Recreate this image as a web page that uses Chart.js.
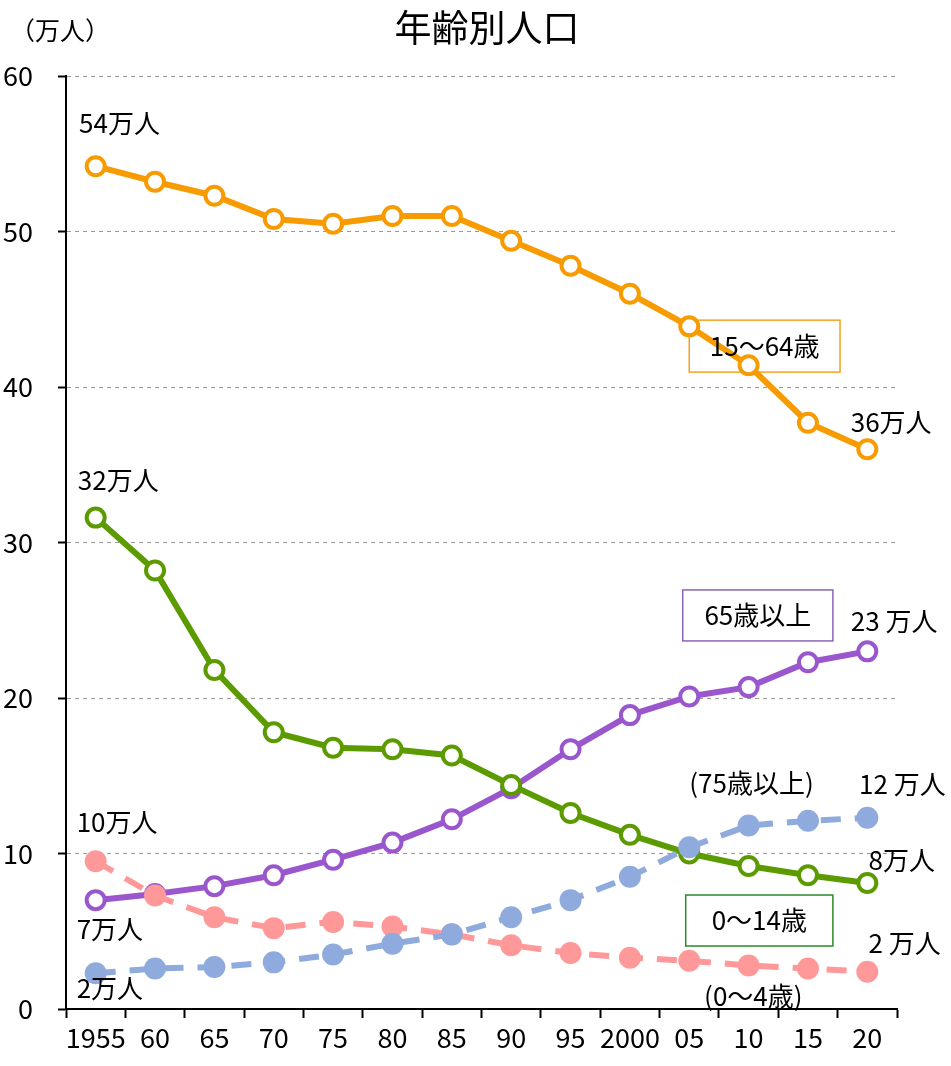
<!DOCTYPE html>
<html>
<head>
<meta charset="utf-8">
<script src="https://cdn.jsdelivr.net/npm/chart.js@4.4.0/dist/chart.umd.min.js"></script>
<style>
  html, body { margin: 0; padding: 0; background: #fff; }
</style>
</head>
<body>
<canvas id="popChart" width="951" height="1066"></canvas>
<script>
// Data (万人)
const years = ['1955', '60', '65', '70', '75', '80', '85', '90', '95', '2000', '05', '10', '15', '20'];
const age15to64 = [54.2, 53.2, 52.3, 50.8, 50.5, 51.0, 51.0, 49.4, 47.8, 46.0, 43.9, 41.4, 37.7, 36.0];
const age0to14 = [31.6, 28.2, 21.8, 17.8, 16.8, 16.7, 16.3, 14.4, 12.6, 11.2, 10.0, 9.2, 8.6, 8.1];
const age65plus = [7.0, 7.4, 7.9, 8.6, 9.6, 10.7, 12.2, 14.2, 16.7, 18.9, 20.1, 20.7, 22.3, 23.0];
const age75plus = [2.3, 2.6, 2.7, 3.0, 3.5, 4.2, 4.8, 5.9, 7.0, 8.5, 10.4, 11.8, 12.1, 12.3];
const age0to4 = [9.5, 7.3, 5.9, 5.2, 5.6, 5.3, 4.8, 4.1, 3.6, 3.3, 3.1, 2.8, 2.6, 2.4];
const yTicks = [0, 10, 20, 30, 40, 50, 60];

const FONT = '"Noto Sans CJK JP", "Noto Sans", sans-serif';

// Text labels anchored in data units: x = category index, y = value
const notes = [
    { text: '54万人', x: -0.28, y: 57.0 },
    { text: '32万人', x: -0.30, y: 34.0 },
    { text: '10万人', x: -0.32, y: 12.0 },
    { text: '7万人', x: -0.32, y: 5.15 },
    { text: '2万人', x: -0.32, y: 1.35 },
    { text: '36万人', x: 12.72, y: 37.75 },
    { text: '23 万人', x: 12.72, y: 24.95 },
    { text: '12 万人', x: 12.86, y: 14.45 },
    { text: '8万人', x: 13.02, y: 9.6 },
    { text: '2 万人', x: 13.02, y: 4.25 },
    { text: '(75歳以上)', x: 10.0, y: 14.5 },
    { text: '(0～4歳)', x: 10.25, y: 0.84 }
];

// Boxed series names
const boxes = [
    { text: '15～64歳', x1: 10.0, x2: 12.54, y1: 44.3, y2: 40.96, color: '#F7A11A' },
    { text: '65歳以上', x1: 9.89, x2: 12.42, y1: 26.95, y2: 23.67, color: '#8C64B4' },
    { text: '0～14歳', x1: 9.94, x2: 12.42, y1: 7.33, y2: 4.05, color: '#2A8A2A' }
];

function px(scale, idx) {
    // fractional category index to pixel
    const a = scale.getPixelForValue(0);
    const b = scale.getPixelForValue(1);
    return a + (b - a) * idx;
}

const annotate = {
    id: 'annotate',
    beforeDatasetsDraw(chart) {
        const ctx = chart.ctx;
        const xs = chart.scales.x, ys = chart.scales.y;
        ctx.save();
        boxes.forEach(b => {
            const l = px(xs, b.x1), r = px(xs, b.x2);
            const t = ys.getPixelForValue(b.y1), bt = ys.getPixelForValue(b.y2);
            ctx.strokeStyle = b.color;
            ctx.lineWidth = 1.5;
            ctx.strokeRect(l, t, r - l, bt - t);
        });
        ctx.restore();
    },
    afterDraw(chart) {
        const ctx = chart.ctx;
        const xs = chart.scales.x, ys = chart.scales.y;
        ctx.save();
        ctx.fillStyle = '#000';
        ctx.textBaseline = 'middle';

        // title and unit
        ctx.font = '37px ' + FONT;
        ctx.textAlign = 'center';
        ctx.fillText('年齢別人口', 487, 28);
        ctx.font = '25px ' + FONT;
        ctx.textAlign = 'left';
        ctx.fillText('（万人）', 10, 30);

        ctx.font = '26px ' + FONT;
        notes.forEach(n => {
            ctx.fillText(n.text, px(xs, n.x), ys.getPixelForValue(n.y));
        });

        ctx.font = '26px ' + FONT;
        ctx.textAlign = 'center';
        boxes.forEach(b => {
            const cx = (px(xs, b.x1) + px(xs, b.x2)) / 2;
            const cy = (ys.getPixelForValue(b.y1) + ys.getPixelForValue(b.y2)) / 2;
            ctx.fillText(b.text, cx, cy);
        });
        ctx.restore();
    }
};

function solid(data, color) {
    return {
        data: data,
        borderColor: color,
        borderWidth: 6,
        pointRadius: 9,
        pointBorderWidth: 4,
        pointBackgroundColor: '#fff',
        pointBorderColor: color,
        tension: 0,
        order: 2
    };
}

function dashed(data, color) {
    return {
        data: data,
        borderColor: color,
        borderWidth: 6,
        borderDash: [20, 14],
        pointRadius: 11,
        pointBorderWidth: 0,
        pointBackgroundColor: color,
        pointBorderColor: color,
        tension: 0,
        order: 1
    };
}

new Chart(document.getElementById('popChart'), {
    type: 'line',
    data: {
        labels: years,
        datasets: [
            solid(age15to64, '#F79B00'),
            solid(age0to14, '#5B9B00'),
            solid(age65plus, '#9A57CD'),
            dashed(age75plus, '#8FAADC'),
            dashed(age0to4, '#FF9999')
        ]
    },
    options: {
        responsive: false,
        animation: false,
        layout: { padding: { top: 76, right: 54, left: 0, bottom: 0 } },
        plugins: {
            legend: { display: false },
            tooltip: { enabled: false }
        },
        scales: {
            x: {
                offset: true,
                afterFit: s => { s.height = 57; },
                grid: {
                    offset: true,
                    drawOnChartArea: false,
                    tickLength: 9,
                    tickColor: '#000',
                    tickWidth: 2
                },
                border: { color: '#000', width: 2 },
                ticks: {
                    color: '#000',
                    padding: 4,
                    maxRotation: 0,
                    autoSkip: false,
                    font: { family: FONT, size: 27 }
                }
            },
            y: {
                min: 0,
                max: 60,
                afterFit: s => { s.width = 66; },
                afterBuildTicks: s => { s.ticks = yTicks.map(v => ({ value: v })); },
                grid: {
                    color: c => (c.tick && c.tick.value === 0) ? 'rgba(0,0,0,0)' : '#9a9a9a',
                    lineWidth: 1,
                    tickLength: 8,
                    tickColor: '#000',
                    tickWidth: 2,
                    tickBorderDash: []
                },
                border: { color: '#000', width: 2, dash: [4, 4] },
                ticks: {
                    color: '#000',
                    padding: 25,
                    font: { family: FONT, size: 27 }
                }
            }
        }
    },
    plugins: [annotate]
});
</script>
</body>
</html>
